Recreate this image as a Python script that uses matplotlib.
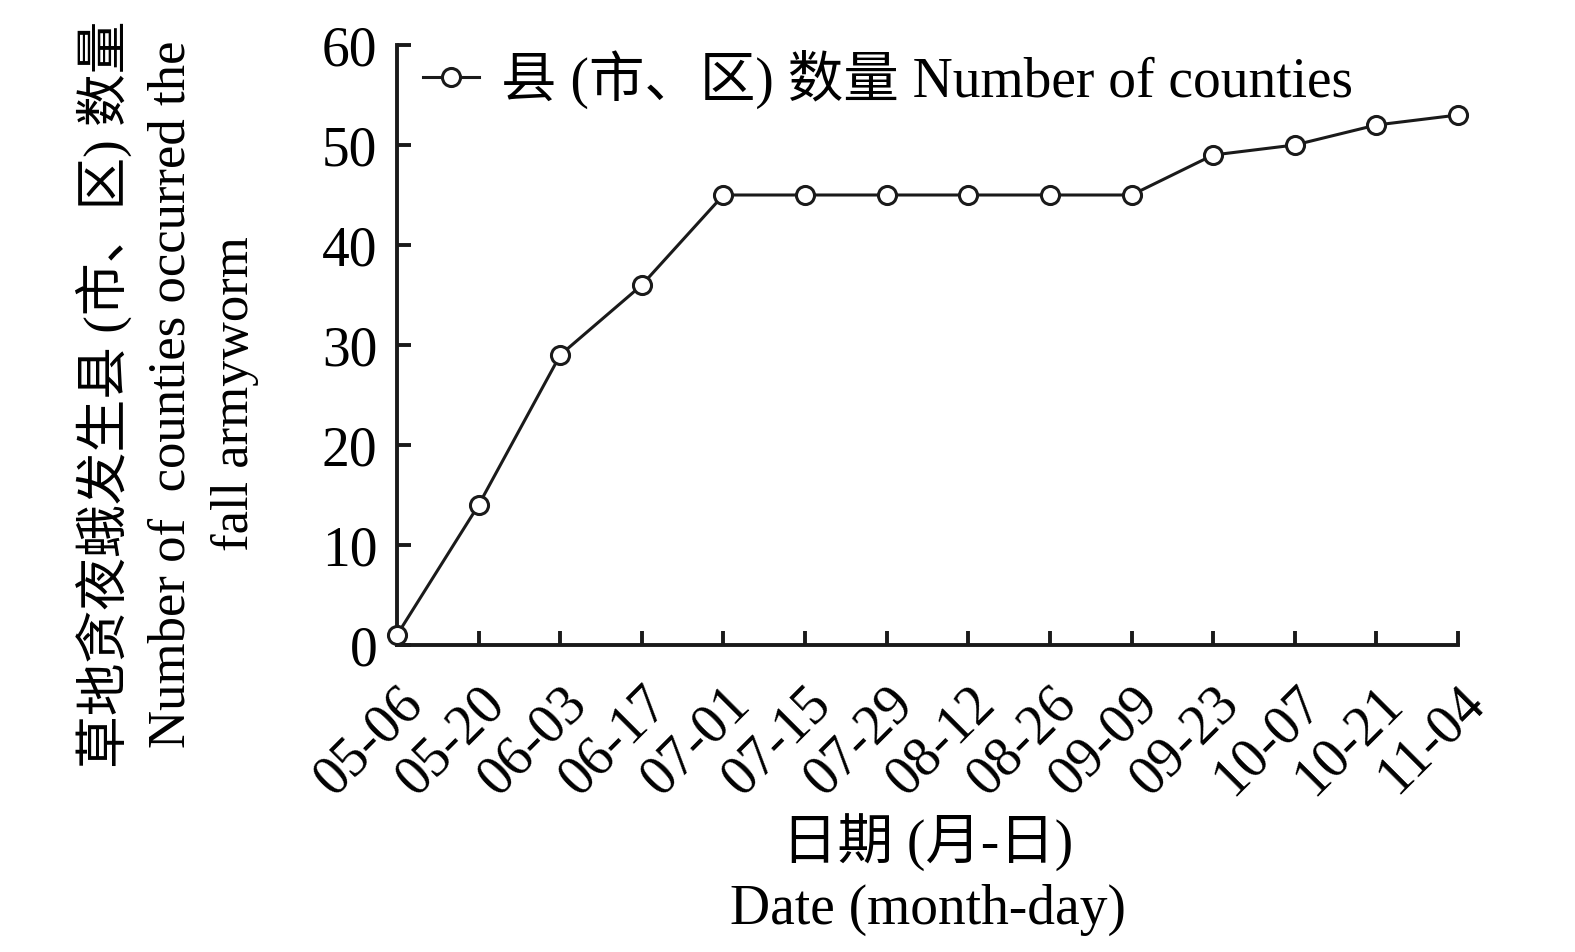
import matplotlib.pyplot as plt
import numpy as np

# data
dates = ["05-06", "05-20", "06-03", "06-17", "07-01", "07-15", "07-29",
         "08-12", "08-26", "09-09", "09-23", "10-07", "10-21", "11-04"]
counties = [1, 14, 29, 36, 45, 45, 45, 45, 45, 45, 49, 50, 52, 53]

plt.rcParams['font.family'] = ['Liberation Serif', 'Noto Sans CJK SC']

fig = plt.figure(figsize=(15.75, 9.53), dpi=100)
ax = fig.add_axes([397/1575, 1-646/953, (1458-397)/1575, 600/953])

x = np.arange(len(dates))
ax.plot(x, counties, color='#1a1a1a', lw=2.2, marker='o', ms=13,
        mfc='white', mec='#1a1a1a', mew=2.2, clip_on=False, zorder=3,
        label="县 (市、区) 数量 Number of counties")

ax.set_xlim(0, len(dates) - 1)
ax.set_ylim(0, 60)
ax.set_yticks(np.arange(0, 61, 10))
ax.set_xticks(x)
ax.set_xticklabels(dates, rotation=45, ha='right', rotation_mode='anchor')

for s in ['top', 'right']:
    ax.spines[s].set_visible(False)
for s in ['left', 'bottom']:
    ax.spines[s].set_linewidth(2.8)
    ax.spines[s].set_color('#1a1a1a')
ax.tick_params(direction='in', length=10, width=2.8, color='#1a1a1a',
               labelsize=40, pad=14)
ax.tick_params(axis='x', pad=22)

ax.set_ylabel("草地贪夜蛾发生县 (市、区) 数量\nNumber of  counties occurred the\nfall armyworm",
              fontsize=38, linespacing=1.42)
ax.yaxis.set_label_coords(-0.13, 0.42)
ax.set_xlabel("日期 (月-日)\nDate (month-day)", fontsize=40, linespacing=1.3)
ax.xaxis.set_label_coords(0.5, -0.28)

ax.legend(loc='upper left', frameon=False, fontsize=40, handlelength=1.0,
          handletextpad=0.4, borderaxespad=0.0, bbox_to_anchor=(0.004, 1.03))

fig.savefig("out.png", dpi=100)
